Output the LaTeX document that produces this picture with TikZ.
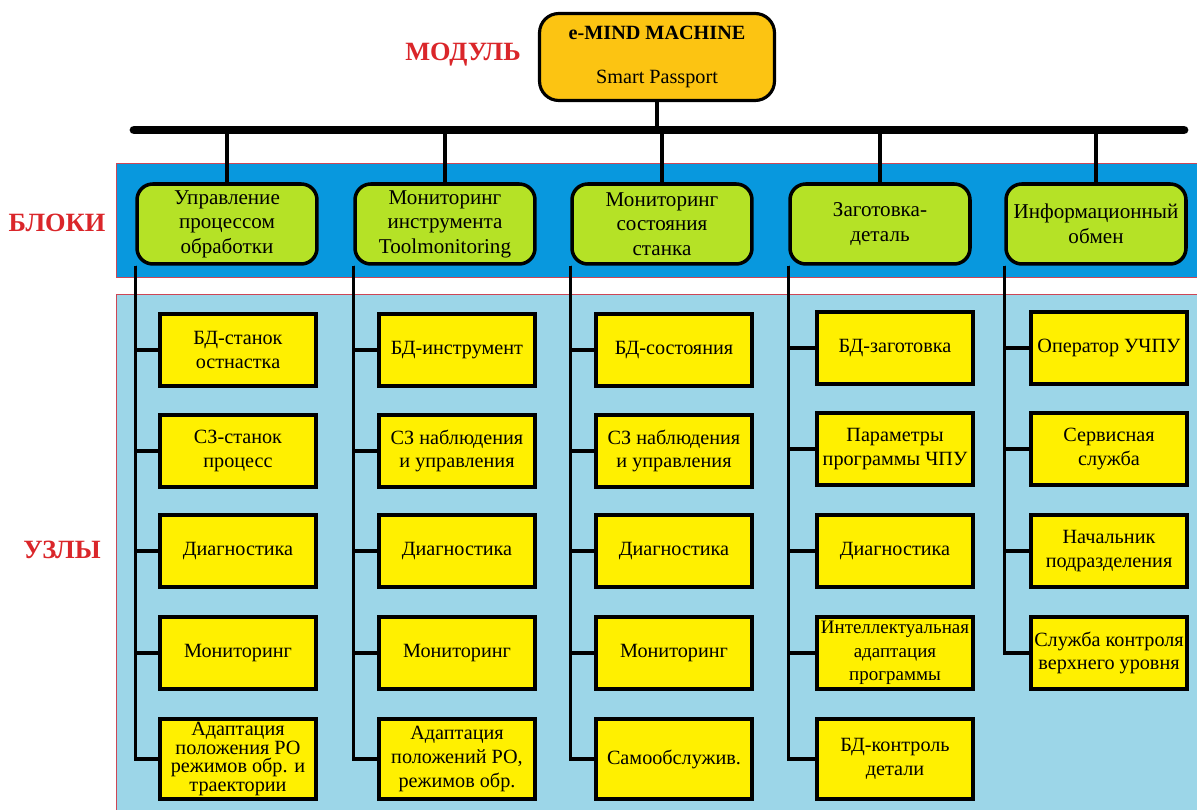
\documentclass[tikz,border=0pt]{standalone}
\usepackage{fontspec}
\setmainfont{Liberation Serif}
\setsansfont{Liberation Serif}
\usepackage{xcolor}
\usepackage{tikz}
\usetikzlibrary{positioning, calc, backgrounds}
\definecolor{EMMGold}{RGB}{252, 196, 18}
\definecolor{EMMLime}{RGB}{181, 226, 38}
\definecolor{EMMBand}{RGB}{8, 152, 222}
\definecolor{EMMField}{RGB}{156, 214, 232}
\definecolor{EMMYellow}{RGB}{255, 240, 0}
\definecolor{EMMRed}{RGB}{218, 38, 42}
\definecolor{EMMFrame}{RGB}{205, 70, 85}

\tikzset{
    modulebox/.style={draw, line width=1.8pt, rounded corners=11pt, fill=EMMGold,
          minimum width=4.7cm, minimum height=1.74cm, align=center,
          font=\rmfamily\fontsize{11.5}{14}\selectfont},
    blockbox/.style={draw, line width=2pt, rounded corners=9pt, fill=EMMLime,
          minimum width=3.6cm, minimum height=1.6cm, align=center,
          font=\rmfamily\fontsize{12}{14}\selectfont},
    unitbox/.style={draw, line width=2.2pt, fill=EMMYellow, inner sep=1pt,
          minimum width=3.12cm, minimum height=1.44cm, align=center,
          font=\rmfamily\fontsize{11.5}{13.5}\selectfont},
    tallunit/.style={unitbox, minimum height=1.6cm},
    levellabel/.style={text=EMMRed, font=\rmfamily\fontsize{15}{18}\selectfont\bfseries},
    link/.style={line width=2pt},
}

\begin{document}
\begin{tikzpicture}[x=0.02cm, y=-0.02cm]
    \useasboundingbox (0,0) rectangle (1197,810);

    \node[modulebox] (mod) at (657,57) {{\bfseries e-MIND MACHINE}\\[11pt]Smart Passport};

    \node[levellabel] (lblmod) at (463,55) {МОДУЛЬ};
    \node[levellabel] (lblblk) at (57,223) {БЛОКИ};
    \node[levellabel] (lbluz) at (62,550) {УЗЛЫ};

    \coordinate (busL) at (134,130);
    \coordinate (busR) at (1184,130);

    \node[blockbox] (b1) at (227,224) {Управление\\процессом\\обработки};
    \node[blockbox] (b2) at (445,224) {Мониторинг\\инструмента\\Toolmonitoring};
    \node[blockbox] (b3) at (662,224) {Мониторинг\\состояния\\станка};
    \node[blockbox] (b4) at (880,224) {Заготовка-\\деталь};
    \node[blockbox] (b5) at (1096,224) {Информационный\\обмен};

    \node[unitbox] (u11) at (238,350) {БД-станок\\остнастка};
    \node[unitbox] (u12) at (238,451) {СЗ-станок\\процесс};
    \node[unitbox] (u13) at (238,551) {Диагностика};
    \node[unitbox] (u14) at (238,653) {Мониторинг};
    \node[tallunit, font=\rmfamily\fontsize{11.5}{10.5}\selectfont] (u15) at (238,759)
          {Адаптация\\положения РО\\режимов обр. и\\траектории};

    \node[unitbox] (u21) at (457,350) {БД-инструмент};
    \node[unitbox] (u22) at (457,451) {СЗ наблюдения\\и управления};
    \node[unitbox] (u23) at (457,551) {Диагностика};
    \node[unitbox] (u24) at (457,653) {Мониторинг};
    \node[tallunit] (u25) at (457,759) {Адаптация\\положений РО,\\режимов обр.};

    \node[unitbox] (u31) at (674,350) {БД-состояния};
    \node[unitbox] (u32) at (674,451) {СЗ наблюдения\\и управления};
    \node[unitbox] (u33) at (674,551) {Диагностика};
    \node[unitbox] (u34) at (674,653) {Мониторинг};
    \node[tallunit] (u35) at (674,759) {Самообслужив.};

    \node[unitbox] (u41) at (895,348) {БД-заготовка};
    \node[unitbox] (u42) at (895,449) {Параметры\\программы ЧПУ};
    \node[unitbox] (u43) at (895,551) {Диагностика};
    \node[unitbox, inner sep=0pt, font=\rmfamily\fontsize{10.8}{13.5}\selectfont] (u44) at (895,653)
          {Интеллектуальная\\адаптация\\программы};
    \node[tallunit] (u45) at (895,759) {БД-контроль\\детали};

    \node[unitbox] (u51) at (1109,348) {Оператор УЧПУ};
    \node[unitbox] (u52) at (1109,449) {Сервисная\\служба};
    \node[unitbox] (u53) at (1109,551) {Начальник\\подразделения};
    \node[unitbox] (u54) at (1109,653) {Служба контроля\\верхнего уровня};

    \begin{scope}[on background layer]
        \fill[EMMBand, draw=EMMFrame, line width=0.5pt] (116,163) rectangle (1197,277);
        \fill[EMMField, draw=EMMFrame, line width=0.5pt] (116,294) rectangle (1197,810);
        \draw[link] (mod.south) -- (mod.south |- busL);
        \foreach \b in {b1,b2,b3,b4,b5}
            \draw[link] (\b.north) -- (\b.north |- busL);
        \foreach \c/\n in {1/5,2/5,3/5,4/5,5/4}
            \foreach \r in {1,...,\n}
                \draw[link] (b\c.south west) |- (u\c\r.west);
        \draw[line width=5pt, line cap=round] (busL) -- (busR);
    \end{scope}
\end{tikzpicture}
\end{document}
